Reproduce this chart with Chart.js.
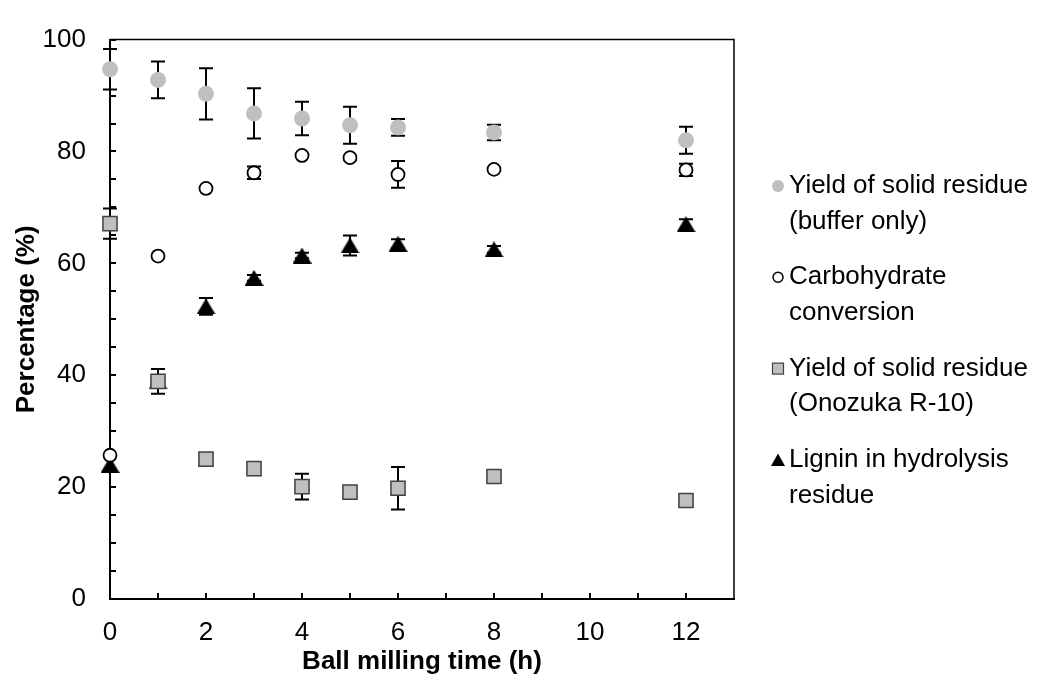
<!DOCTYPE html>
<html>
<head>
<meta charset="utf-8">
<script src="https://cdn.jsdelivr.net/npm/chart.js@4"></script>
<style>
  html, body { margin: 0; padding: 0; background: #fff; }
  #wrap { width: 1039px; height: 680px; position: relative; }
</style>
</head>
<body>
<div id="wrap"><canvas id="millingChart"></canvas></div>
<script>
// ball milling time (h)
const times = [0, 1, 2, 3, 4, 5, 6, 8, 12];

// series values (%) and their error bars (+/-)
const bufferYield = [94.7, 92.8, 90.3, 86.8, 85.9, 84.7, 84.3, 83.4, 82.0];
const bufferErr = [3.6, 3.3, 4.6, 4.5, 3.0, 3.3, 1.5, 1.4, 2.4];

const carbConversion = [25.7, 61.3, 73.4, 76.2, 79.3, 78.9, 75.9, 76.8, 76.7];
const carbErr = [0, 0, 0, 1.1, 0, 0, 2.4, 0, 1.1];

const onozukaYield = [67.1, 38.9, 25.0, 23.3, 20.1, 19.1, 19.8, 21.9, 17.6];
const onozukaErr = [2.7, 0, 0, 0, 2.3, 0, 3.8, 0, 0];

const ligninResidue = [24.0, 38.9, 52.3, 57.4, 61.4, 63.2, 63.5, 62.5, 67.0];
const ligninErr = [0, 2.2, 1.5, 0.5, 0.5, 1.8, 0.8, 0.6, 0.9];

const legendLabels = [
    ['Yield of solid residue', '(buffer only)'],
    ['Carbohydrate', 'conversion'],
    ['Yield of solid residue', '(Onozuka R-10)'],
    ['Lignin in hydrolysis', 'residue']
];

const FONT = "'Liberation Sans', Arial, sans-serif";
const GRAY = '#bfbfbf';

// triangle marker centred on its bounding box (like the spreadsheet markers)
function makeTriangle(w, h) {
    const c = document.createElement('canvas');
    c.width = w; c.height = h;
    const g = c.getContext('2d');
    g.fillStyle = '#000';
    g.beginPath();
    g.moveTo(w / 2, 0);
    g.lineTo(w, h);
    g.lineTo(0, h);
    g.closePath();
    g.fill();
    return c;
}
const bigTriangle = makeTriangle(19, 16);

const toPoints = vals => vals.map((v, i) => ({ x: times[i], y: v }));

const datasets = [
    {
        label: legendLabels[0].join(' '),
        data: toPoints(bufferYield),
        err: bufferErr,
        pointStyle: 'circle',
        pointRadius: 8,
        backgroundColor: GRAY,
        borderColor: GRAY,
        borderWidth: 0,
        legendStyle: 'gray-circle'
    },
    {
        label: legendLabels[1].join(' '),
        data: toPoints(carbConversion),
        err: carbErr,
        pointStyle: 'circle',
        pointRadius: 6.5,
        backgroundColor: '#fff',
        borderColor: '#000',
        borderWidth: 1.8,
        legendStyle: 'open-circle'
    },
    {
        label: legendLabels[2].join(' '),
        data: toPoints(onozukaYield),
        err: onozukaErr,
        pointStyle: 'rect',
        pointRadius: 10,
        backgroundColor: GRAY,
        borderColor: '#404040',
        borderWidth: 1.5,
        legendStyle: 'square'
    },
    {
        label: legendLabels[3].join(' '),
        data: toPoints(ligninResidue),
        err: ligninErr,
        pointStyle: bigTriangle,
        pointRadius: 10,
        backgroundColor: '#000',
        borderColor: '#000',
        borderWidth: 0,
        legendStyle: 'triangle'
    }
];
datasets.forEach(d => { d.showLine = false; d.clip = false; });

// axes extras: inner tick marks, top/right frame, error bars (behind markers)
const underlayPlugin = {
    id: 'underlay',
    beforeDatasetsDraw(chart) {
        const { ctx, chartArea: a, scales: { x, y } } = chart;
        ctx.save();
        ctx.strokeStyle = '#000';

        ctx.lineWidth = 1.5;
        ctx.beginPath();
        ctx.moveTo(a.left, a.top);
        ctx.lineTo(a.right, a.top);
        ctx.lineTo(a.right, a.bottom);
        ctx.stroke();

        ctx.lineWidth = 2;
        ctx.beginPath();
        y.ticks.forEach(t => {
            const py = Math.round(y.getPixelForValue(t.value));
            ctx.moveTo(a.left, py);
            ctx.lineTo(a.left + 6, py);
        });
        x.ticks.forEach(t => {
            if (t.value >= x.max) return;
            const px = Math.round(x.getPixelForValue(t.value));
            ctx.moveTo(px, a.bottom);
            ctx.lineTo(px, a.bottom - 6);
        });
        ctx.stroke();

        ctx.lineWidth = 2;
        chart.data.datasets.forEach(ds => {
            ds.data.forEach((p, i) => {
                const e = ds.err[i];
                if (!e) return;
                const px = x.getPixelForValue(p.x);
                const top = y.getPixelForValue(p.y + e);
                const bot = y.getPixelForValue(p.y - e);
                ctx.beginPath();
                ctx.moveTo(px, top); ctx.lineTo(px, bot);
                ctx.moveTo(px - 7, top); ctx.lineTo(px + 7, top);
                ctx.moveTo(px - 7, bot); ctx.lineTo(px + 7, bot);
                ctx.stroke();
            });
        });
        ctx.restore();
    }
};

// multi-line legend on the right
const legendPlugin = {
    id: 'sideLegend',
    afterDraw(chart) {
        const { ctx } = chart;
        const markX = 778, textX = 789, firstY = 186, step = 91.3, lineGap = 35.5;
        ctx.save();
        ctx.font = '26px ' + FONT;
        ctx.fillStyle = '#000';
        ctx.textBaseline = 'middle';
        ctx.textAlign = 'left';
        chart.data.datasets.forEach((ds, i) => {
            const cy = firstY + i * step;
            ctx.save();
            switch (ds.legendStyle) {
                case 'gray-circle':
                    ctx.fillStyle = GRAY;
                    ctx.beginPath(); ctx.arc(markX, cy, 6, 0, Math.PI * 2); ctx.fill();
                    break;
                case 'open-circle':
                    ctx.fillStyle = '#fff'; ctx.strokeStyle = '#000'; ctx.lineWidth = 1.5;
                    ctx.beginPath(); ctx.arc(markX, cy, 5, 0, Math.PI * 2); ctx.fill(); ctx.stroke();
                    break;
                case 'square':
                    ctx.fillStyle = GRAY; ctx.strokeStyle = '#404040'; ctx.lineWidth = 1.2;
                    ctx.fillRect(markX - 5.5, cy - 5.5, 11, 11);
                    ctx.strokeRect(markX - 5.5, cy - 5.5, 11, 11);
                    break;
                case 'triangle':
                    ctx.fillStyle = '#000';
                    ctx.beginPath();
                    ctx.moveTo(markX, cy - 6.5); ctx.lineTo(markX + 7, cy + 6); ctx.lineTo(markX - 7, cy + 6);
                    ctx.closePath(); ctx.fill();
                    break;
            }
            ctx.restore();
            legendLabels[i].forEach((line, k) => ctx.fillText(line, textX, cy + k * lineGap));
        });
        ctx.restore();
    }
};

new Chart(document.getElementById('millingChart'), {
    type: 'scatter',
    data: { datasets },
    options: {
        responsive: true,
        maintainAspectRatio: false,
        animation: false,
        events: [],
        layout: { padding: { top: 26, right: 305, left: 0, bottom: 0 } },
        plugins: { legend: { display: false }, tooltip: { enabled: false } },
        scales: {
            x: {
                type: 'linear',
                min: 0,
                max: 13,
                afterFit: s => { s.height = 81; },
                grid: { display: false, drawTicks: false },
                border: { display: true, color: '#000', width: 2 },
                ticks: {
                    stepSize: 1,
                    autoSkip: false,
                    maxRotation: 0,
                    padding: 18,
                    color: '#000',
                    font: { family: FONT, size: 26 },
                    callback: v => (v % 2 === 0 && v < 13 ? v : '')
                },
                title: {
                    display: true,
                    text: 'Ball milling time (h)',
                    color: '#000',
                    font: { family: FONT, size: 26, weight: 'bold' },
                    padding: { top: 0, bottom: 3 }
                }
            },
            y: {
                min: 0,
                max: 100,
                afterFit: s => { s.width = 110; },
                grid: { display: false, drawTicks: false },
                border: { display: true, color: '#000', width: 2 },
                ticks: {
                    stepSize: 5,
                    autoSkip: false,
                    padding: 24,
                    color: '#000',
                    font: { family: FONT, size: 26 },
                    callback: v => (v % 20 === 0 ? v : '')
                },
                title: {
                    display: true,
                    text: 'Percentage (%)',
                    color: '#000',
                    font: { family: FONT, size: 26, weight: 'bold' },
                    padding: { top: 11, bottom: 0 }
                }
            }
        }
    },
    plugins: [underlayPlugin, legendPlugin]
});
</script>
</body>
</html>
